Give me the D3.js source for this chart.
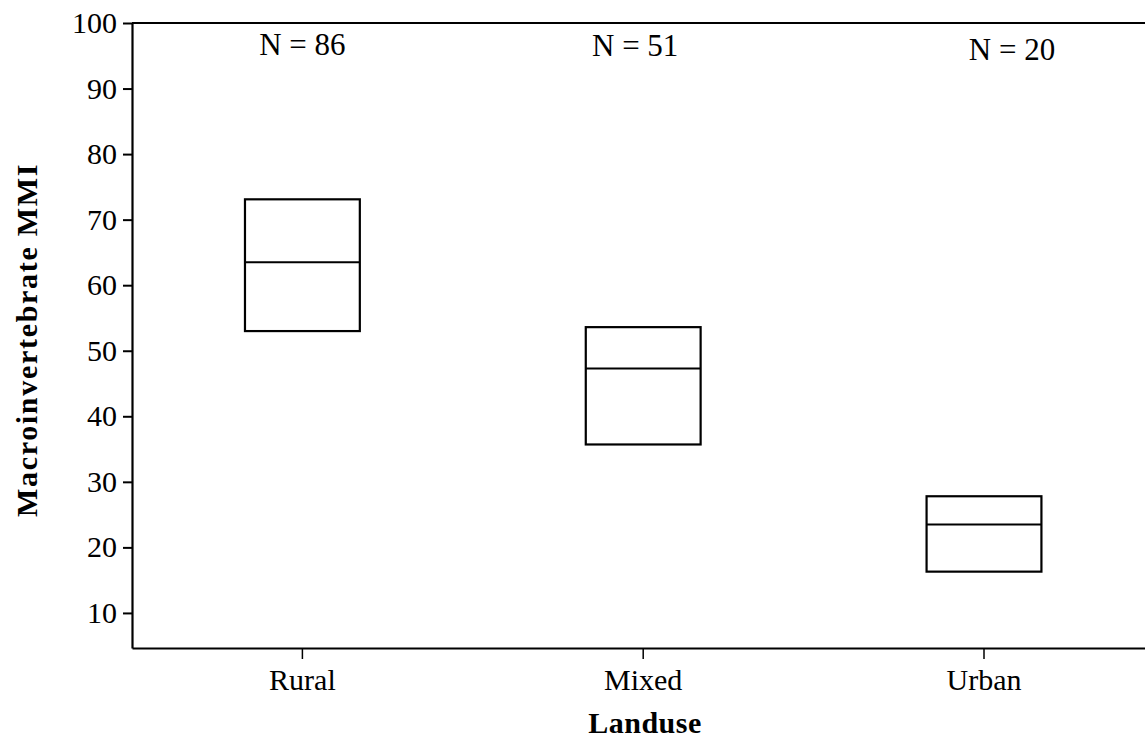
<!DOCTYPE html>
<html>
<head>
<meta charset="utf-8">
<script src="https://cdn.jsdelivr.net/npm/d3@7"></script>
<style>
  html, body { margin: 0; padding: 0; background: #fff; }
  svg { display: block; font-family: "Liberation Serif", "Times New Roman", serif; }
</style>
</head>
<body>
<svg id="chart" width="1145" height="742"></svg>
<script>
// Land use categories and box summaries (Q1, median, Q3)
const categories = ['Rural', 'Mixed', 'Urban'];
const q1     = [53.0, 35.7, 16.3];
const median = [63.5, 47.3, 23.5];
const q3     = [73.1, 53.6, 27.8];
const counts = [86, 51, 20];
const yTicks = [10, 20, 30, 40, 50, 60, 70, 80, 90, 100];

// N label nudges (the original labels are not exactly centred)
const nDx = [0, -8, 28];
const nDy = [0, 1, 5];

const margin = { top: 23, left: 132, bottom: 94 };
const W = 1145, H = 742;
const step = 340.8;

const svg = d3.select('#chart');

const x = d3.scaleBand()
  .domain(categories)
  .range([margin.left, margin.left + step * categories.length])
  .padding(0);

const y = d3.scaleLinear()
  .domain([4.65, 100])
  .range([H - margin.bottom, margin.top]);

const boxW = step * 0.337;

// Left axis
const yAxis = svg.append('g')
  .attr('transform', `translate(${margin.left},0)`)
  .call(d3.axisLeft(y).tickValues(yTicks).tickSize(9).tickSizeOuter(0).tickPadding(6));
yAxis.select('.domain').attr('stroke-width', 2.2);
yAxis.selectAll('.tick line').attr('stroke-width', 2);
yAxis.selectAll('.tick text')
  .attr('font-size', 30).attr('font-family', '"Liberation Serif", serif').attr('fill', '#000');

// Top frame line
svg.append('line')
  .attr('x1', margin.left).attr('x2', W)
  .attr('y1', y(100)).attr('y2', y(100))
  .attr('stroke', '#000').attr('stroke-width', 2.2);

// Bottom axis
const xAxis = svg.append('g')
  .attr('transform', `translate(0,${y.range()[0]})`)
  .call(d3.axisBottom(x).tickSize(11).tickSizeOuter(0).tickPadding(10));
xAxis.select('.domain').attr('stroke-width', 2.2);
xAxis.selectAll('.tick line').attr('stroke-width', 1.5);
xAxis.selectAll('.tick text')
  .attr('font-size', 30).attr('font-family', '"Liberation Serif", serif').attr('fill', '#000');

// Boxes
const boxes = svg.append('g');
categories.forEach((c, i) => {
  const cx = x(c) + x.bandwidth() / 2;
  boxes.append('rect')
    .attr('x', cx - boxW / 2).attr('width', boxW)
    .attr('y', y(q3[i])).attr('height', y(q1[i]) - y(q3[i]))
    .attr('fill', 'none').attr('stroke', '#000').attr('stroke-width', 2.2);
  boxes.append('line')
    .attr('x1', cx - boxW / 2).attr('x2', cx + boxW / 2)
    .attr('y1', y(median[i])).attr('y2', y(median[i]))
    .attr('stroke', '#000').attr('stroke-width', 2);
  svg.append('text')
    .attr('x', cx + nDx[i]).attr('y', 55 + nDy[i])
    .attr('text-anchor', 'middle')
    .attr('font-size', 31)
    .text(`N = ${counts[i]}`);
});

// Axis titles
svg.append('text')
  .attr('transform', `translate(37,${(163 + 517) / 2}) rotate(-90)`)
  .attr('text-anchor', 'middle')
  .attr('font-size', 30).attr('font-weight', 'bold')
  .attr('letter-spacing', 1.7)
  .text('Macroinvertebrate MMI');

svg.append('text')
  .attr('x', 645).attr('y', 733)
  .attr('text-anchor', 'middle')
  .attr('font-size', 30).attr('font-weight', 'bold')
  .attr('letter-spacing', 0.5)
  .text('Landuse');
</script>
</body>
</html>
